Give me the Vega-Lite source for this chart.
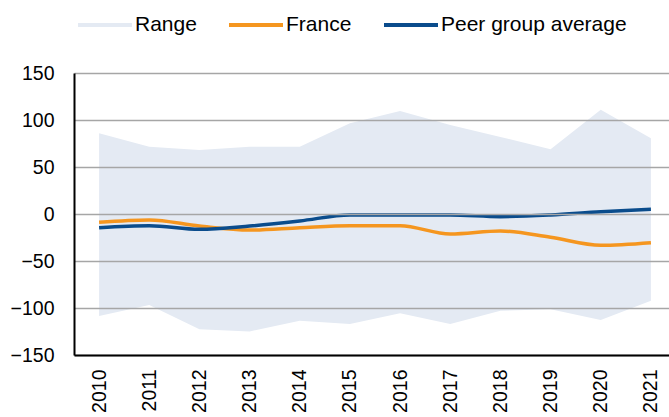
{
  "$schema": "https://vega.github.io/schema/vega-lite/v6.json",
  "autosize": {"type": "none"},
  "padding": {"left": 74, "top": 73, "right": 0, "bottom": 62},
  "width": 602,
  "height": 282,
  "background": "white",
  "config": {
    "font": "Liberation Sans",
    "view": {"stroke": null},
    "axis": {"labelFont": "Liberation Sans", "labelColor": "#000000", "labelFontSize": 19.5}
  },
  "data": {
    "values": [
      {"year": "2010", "low": -108.5, "high": 85.8, "france": -8.9, "peer": -14.5},
      {"year": "2011", "low": -96.8, "high": 71.6, "france": -6.4, "peer": -12.4},
      {"year": "2012", "low": -122.7, "high": 68, "france": -12.8, "peer": -16.3},
      {"year": "2013", "low": -125, "high": 71.6, "france": -17, "peer": -12.8},
      {"year": "2014", "low": -113.5, "high": 71.6, "france": -14.5, "peer": -7.4},
      {"year": "2015", "low": -117, "high": 96.5, "france": -12.4, "peer": -1},
      {"year": "2016", "low": -105.7, "high": 109.6, "france": -12.4, "peer": -1},
      {"year": "2017", "low": -117, "high": 94.7, "france": -21.3, "peer": -1},
      {"year": "2018", "low": -103, "high": 82, "france": -18.1, "peer": -2.8},
      {"year": "2019", "low": -101.4, "high": 69, "france": -24.8, "peer": -1},
      {"year": "2020", "low": -112.8, "high": 111, "france": -33.3, "peer": 2.5},
      {"year": "2021", "low": -92.2, "high": 80.5, "france": -30.5, "peer": 5}
    ]
  },
  "encoding": {
    "x": {
      "field": "year", "type": "ordinal",
      "scale": {"type": "point", "padding": 0.5},
      "axis": {"title": null, "labelAngle": -90, "labelAlign": "right", "labelBaseline": "middle", "labelPadding": 14, "ticks": false, "domainColor": "#000000", "domainWidth": 2, "grid": false, "zindex": 1}
    }
  },
  "layer": [
    {
      "mark": {"type": "area", "opacity": 1},
      "encoding": {
        "y": {
          "field": "low", "type": "quantitative",
          "scale": {"domain": [-150, 150], "nice": false, "zero": false},
          "axis": {"title": null, "values": [-150, -100, -50, 0, 50, 100, 150], "ticks": false, "labelPadding": 20, "domainColor": "#000000", "domainWidth": 2, "grid": true, "gridColor": "#a6a6a6", "gridWidth": 1.3, "zindex": 1}
        },
        "y2": {"field": "high"},
        "color": {
          "datum": "Range", "type": "nominal",
          "scale": {"domain": ["Range", "France", "Peer group average"], "range": ["#e4eaf3", "#f5961f", "#0a4c8c"]},
          "legend": {
            "title": null, "orient": "none", "direction": "horizontal",
            "legendX": 2, "legendY": -77, "padding": 0,
            "symbolType": "stroke", "symbolSize": 2916, "symbolStrokeWidth": 4,
            "labelFontSize": 21, "labelColor": "#000000", "labelOffset": 1, "labelLimit": 400,
            "columnPadding": 24,
            "encode": {"symbols": {"update": {"strokeWidth": {"signal": "datum.label === 'Range' ? 11 : 4"}}}}
          }
        }
      }
    },
    {
      "mark": {"type": "rule", "color": "#000000", "strokeWidth": 1.6},
      "encoding": {"y": {"datum": 0, "type": "quantitative"}}
    },
    {
      "mark": {"type": "line", "interpolate": "monotone", "strokeWidth": 3.5},
      "encoding": {
        "y": {"field": "france", "type": "quantitative"},
        "color": {"datum": "France", "type": "nominal"}
      }
    },
    {
      "mark": {"type": "line", "interpolate": "monotone", "strokeWidth": 3.5},
      "encoding": {
        "y": {"field": "peer", "type": "quantitative"},
        "color": {"datum": "Peer group average", "type": "nominal"}
      }
    }
  ]
}
